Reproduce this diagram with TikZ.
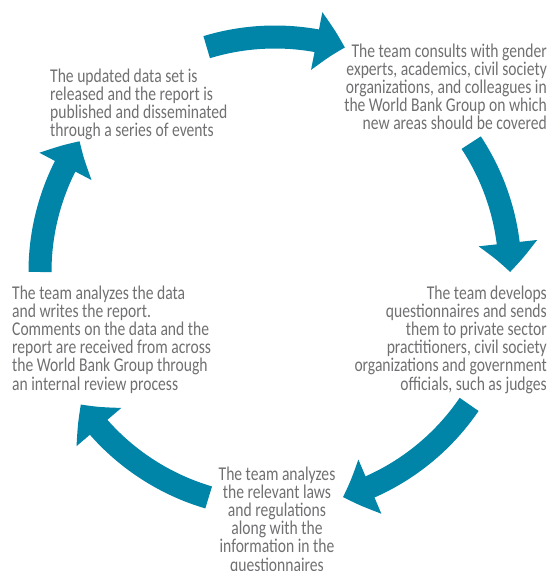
\documentclass[tikz,border=0pt]{standalone}
\usepackage{fontspec}
\usetikzlibrary{arrows.meta,bending}
\newfontfamily\stepfont[FakeStretch=0.8]{Carlito}
\newcommand\firstln{\rule{0pt}{15pt}}
\definecolor{cycleblue}{RGB}{0,133,168}
\definecolor{stepgray}{RGB}{112,112,115}
\tikzset{
  steptext/.style={font={\stepfont\fontsize{19.5}{18.2}\selectfont}, text=stepgray, inner sep=0pt},
  cyclearrow/.style={draw=cycleblue, line width=23pt, -{Triangle[length=29pt,width=57pt,bend]}}
}
\begin{document}
\begin{tikzpicture}[x=1pt,y=1pt]
            \useasboundingbox (0,0) rectangle (550,571);
            \coordinate (c) at (275,299);

            \node[steptext, align=left, anchor=north west] (release) at (50,504) {\firstln The updated data set is\\released and the report is\\published and disseminated\\through a series of events};
            \node[steptext, align=right, anchor=north east] (consult) at (547,529) {\firstln The team consults with gender\\experts, academics, civil society\\organizations, and colleagues in\\the World Bank Group on which\\new areas should be covered};
            \node[steptext, align=left, anchor=north west] (report) at (12,287) {\firstln The team analyzes the data\\and writes the report.\\Comments on the data and the\\report are received from across\\the World Bank Group through\\an internal review process};
            \node[steptext, align=right, anchor=north east] (survey) at (547,287) {\firstln The team develops\\questionnaires and sends\\them to private sector\\practitioners, civil society\\organizations and government\\officials, such as judges};
            \node[steptext, align=center, anchor=north] (laws) at (277,106) {\firstln The team analyzes\\the relevant laws\\and regulations\\along with the\\information in the\\questionnaires};

            \coordinate (a1) at ([shift={(106.9:235)}]c);
            \coordinate (a2) at ([shift={(33.4:235)}]c);
            \coordinate (a3) at ([shift={(-34.3:235)}]c);
            \coordinate (a4) at ([shift={(-106.4:235)}]c);
            \coordinate (a5) at ([shift={(180:235)}]c);

            \draw[cyclearrow] (a1) arc[start angle=106.9, end angle=72.7, radius=235];
            \draw[cyclearrow] (a2) arc[start angle=33.4, end angle=0, radius=235];
            \draw[cyclearrow] (a3) arc[start angle=-34.3, end angle=-73.2, radius=235];
            \draw[cyclearrow] (a4) arc[start angle=-106.4, end angle=-145.7, radius=235];
            \draw[cyclearrow] (a5) arc[start angle=180, end angle=146.2, radius=235];
        \end{tikzpicture}
\end{document}
